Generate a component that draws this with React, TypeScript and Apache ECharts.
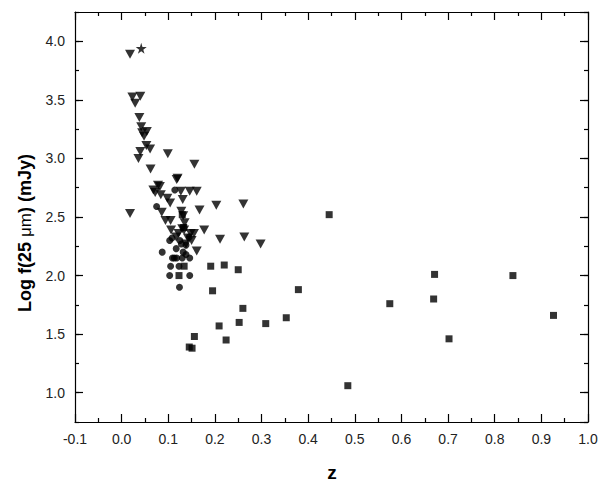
import React, { useEffect, useRef } from "react";
import * as echarts from "echarts";

const triangles: number[][] = [
  [0.018, 3.89], [0.023, 3.525], [0.040, 3.53], [0.029, 3.47], [0.038, 3.35],
  [0.042, 3.27], [0.044, 3.22], [0.054, 3.23], [0.048, 3.19], [0.053, 3.11],
  [0.061, 3.08], [0.040, 3.06], [0.036, 3.00], [0.099, 3.04], [0.062, 2.91],
  [0.156, 2.95], [0.118, 2.82], [0.120, 2.83], [0.068, 2.73], [0.072, 2.71],
  [0.078, 2.77], [0.082, 2.76], [0.084, 2.69], [0.127, 2.72], [0.146, 2.72],
  [0.161, 2.72], [0.098, 2.66], [0.104, 2.62], [0.131, 2.65], [0.167, 2.56],
  [0.203, 2.60], [0.261, 2.61], [0.018, 2.53], [0.086, 2.54], [0.094, 2.47],
  [0.105, 2.47], [0.128, 2.55], [0.132, 2.51], [0.177, 2.39], [0.211, 2.31],
  [0.263, 2.33], [0.298, 2.27], [0.161, 2.21], [0.106, 2.39], [0.130, 2.40],
  [0.148, 2.36], [0.155, 2.36], [0.134, 2.39], [0.142, 2.32], [0.117, 2.33],
  [0.150, 2.30], [0.138, 2.27], [0.135, 2.45], [0.122, 2.36],
];

const circles: number[][] = [
  [0.075, 2.59], [0.087, 2.20], [0.103, 2.30], [0.108, 2.32], [0.117, 2.23],
  [0.109, 2.15], [0.118, 2.15], [0.130, 2.15], [0.138, 2.18], [0.146, 2.15],
  [0.105, 2.08], [0.123, 2.08], [0.103, 2.00], [0.146, 2.00], [0.124, 1.90],
  [0.125, 2.30], [0.138, 2.26], [0.132, 2.20], [0.114, 2.73], [0.145, 2.33],
  [0.128, 2.27], [0.113, 2.15],
];

const squares: number[][] = [
  [0.445, 2.52], [0.191, 2.08], [0.220, 2.09], [0.250, 2.05], [0.195, 1.87],
  [0.379, 1.88], [0.260, 1.72], [0.209, 1.57], [0.252, 1.60], [0.309, 1.59],
  [0.353, 1.64], [0.156, 1.48], [0.224, 1.45], [0.145, 1.39], [0.151, 1.38],
  [0.485, 1.06], [0.575, 1.76], [0.671, 2.01], [0.669, 1.80], [0.702, 1.46],
  [0.839, 2.00], [0.926, 1.66], [0.134, 2.08], [0.123, 2.00], [0.130, 2.52],
  [0.133, 2.41],
];

const stars: number[][] = [[0.042, 3.94]];

const X_MIN = -0.1;
const X_MAX = 1.0;
const Y_MIN = 0.75;
const Y_MAX = 4.25;

const STAR =
  "path://M50,0 L61,35 L98,35 L68,57 L79,91 L50,70 L21,91 L32,57 L2,35 L39,35 Z";

export default function App() {
  const ref = useRef<HTMLDivElement>(null);
  useEffect(() => {
    if (!ref.current) return;
    const chart = echarts.init(ref.current, undefined, { renderer: "svg" });
    const lineStyle = { color: "#000", width: 1.2 };
    const baseX = {
      type: "value",
      min: X_MIN,
      max: X_MAX,
      interval: 0.1,
      splitLine: { show: false },
      axisLine: { show: true, onZero: false, lineStyle },
      axisTick: { show: true, inside: true, length: 8, lineStyle },
      minorTick: { show: true, splitNumber: 2, length: 4, lineStyle },
    };
    const majorY = {
      type: "value",
      min: Y_MIN,
      max: Y_MAX,
      splitNumber: 7,
      splitLine: { show: false },
      axisLine: { show: true, onZero: false, lineStyle },
      axisTick: { show: true, inside: true, length: 8, lineStyle },
    };
    const minorY = {
      type: "value",
      min: Y_MIN,
      max: Y_MAX,
      interval: 0.25,
      splitLine: { show: false },
      axisLine: { show: false, onZero: false },
      axisLabel: { show: false },
      axisTick: { show: true, inside: true, length: 4, lineStyle },
    };
    chart.setOption({
      animation: false,
      backgroundColor: "#fff",
      grid: { left: 75, right: 20, top: 12, bottom: 65 },
      xAxis: [
        {
          ...baseX,
          position: "bottom",
          axisLabel: {
            show: true,
            margin: 10,
            color: "#222",
            fontFamily: "Liberation Sans, Arial, sans-serif",
            fontSize: 14,
            formatter: (v: number) => v.toFixed(1),
          },
        },
        { ...baseX, position: "top", axisLabel: { show: false } },
      ],
      yAxis: [
        {
          ...majorY,
          position: "left",
          axisLabel: {
            show: true,
            margin: 10,
            showMinLabel: false,
            showMaxLabel: false,
            color: "#222",
            fontFamily: "Liberation Sans, Arial, sans-serif",
            fontSize: 14,
            formatter: (v: number) => v.toFixed(1),
          },
        },
        { ...minorY, position: "left" },
        { ...majorY, position: "right", axisLabel: { show: false } },
        { ...minorY, position: "right" },
      ],
      graphic: [
        {
          type: "text",
          x: 25,
          y: 233,
          rotation: Math.PI / 2,
          style: {
            text: "{b|Log f(25 }{n|μm}{b|) (mJy)}",
            align: "center",
            verticalAlign: "middle",
            rich: {
              b: {
                fontFamily: "Liberation Sans, Arial, sans-serif",
                fontWeight: "bold",
                fontSize: 18,
                fill: "#000",
              },
              n: {
                fontFamily: "Liberation Sans, Arial, sans-serif",
                fontWeight: "normal",
                fontSize: 17,
                fill: "#000",
              },
            },
          },
        },
        {
          type: "text",
          x: 332,
          y: 472,
          style: {
            text: "z",
            align: "center",
            verticalAlign: "middle",
            fontFamily: "Liberation Sans, Arial, sans-serif",
            fontWeight: "bold",
            fontSize: 19,
            fill: "#000",
          },
        },
      ],
      series: [
        {
          type: "scatter",
          data: triangles,
          symbol: "triangle",
          symbolRotate: 180,
          symbolSize: [10, 9],
          itemStyle: { color: "#000" },
        },
        {
          type: "scatter",
          data: circles,
          symbol: "circle",
          symbolSize: 7,
          itemStyle: { color: "#000" },
        },
        {
          type: "scatter",
          data: squares,
          symbol: "rect",
          symbolSize: 7,
          itemStyle: { color: "#000" },
        },
        {
          type: "scatter",
          data: stars,
          symbol: STAR,
          symbolSize: 11,
          itemStyle: { color: "#000" },
        },
      ],
    });
    return () => chart.dispose();
  }, []);
  return <div ref={ref} style={{ width: 608, height: 487, margin: -8 }} />;
}
